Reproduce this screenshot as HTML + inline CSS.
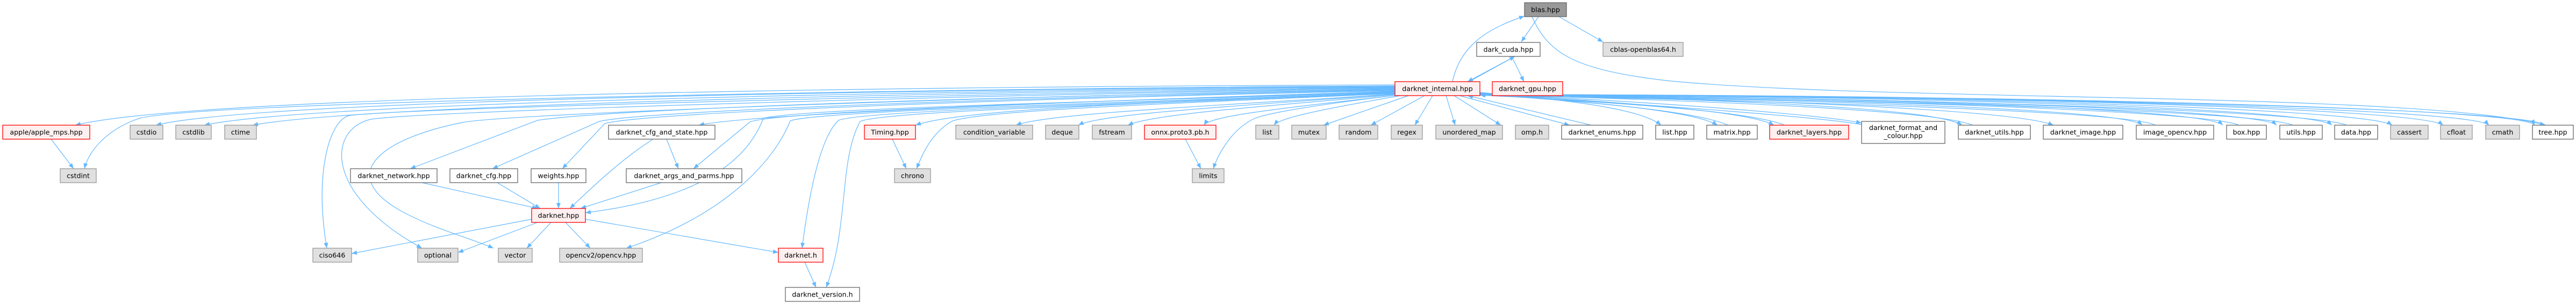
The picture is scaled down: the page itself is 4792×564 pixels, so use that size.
<!DOCTYPE html>
<html><head><meta charset="utf-8"><style>
html,body{margin:0;padding:0;background:#fff;}
svg{display:block;}
text{font-family:"DejaVu Sans","Liberation Sans",sans-serif;font-size:12.6px;fill:#000;text-anchor:middle;}
.g{fill:#e0e0e0;stroke:#999;stroke-width:1.3;}
.w{fill:#fff;stroke:#666;stroke-width:1.3;}
.r{fill:#fff0f0;stroke:#f00;stroke-width:1.3;}
.d{fill:#999;stroke:#666;stroke-width:1.3;}
.e{fill:none;stroke:#63b8ff;stroke-width:1.2;marker-end:url(#a);}
</style></head><body>
<svg width="4792" height="564" viewBox="0 0 4792 564" xmlns="http://www.w3.org/2000/svg">
<defs><marker id="a" markerWidth="10" markerHeight="8" refX="10" refY="4" orient="auto" markerUnits="userSpaceOnUse"><path d="M0,0L10,4L0,8z" fill="#63b8ff"/></marker></defs>

<g>
<!-- top -->
<path class="e" d="M2702,152 C2715,90 2760,55 2836,30"/>
<path class="e" d="M2862,31 L2830,78"/>
<path class="e" d="M2900,31 L2982,78"/>
<path class="e" d="M2850,31 C2880,100 2930,130 3100,150 C3500,190 4500,170 4735,233"/>
<path class="e" d="M2818,105 L2730,152"/>
<path class="e" d="M2733,152 L2818,105"/>
<path class="e" d="M2812,105 L2835,152"/>
<!-- left bundle -->
<path class="e" d="M2595,158 C2000,160 400,170 140,233"/>
<path class="e" d="M2595,160 C2000,162 400,185 260,220 C200,240 165,280 157,314"/>
<path class="e" d="M2595,161 C2000,164 500,180 290,233"/>
<path class="e" d="M2595,162 C2000,166 600,185 380,233"/>
<path class="e" d="M2595,163 C2000,168 700,190 470,233"/>
<path class="e" d="M2595,164 C2000,170 760,200 650,215 C610,225 585,330 608,462"/>
<path class="e" d="M2595,165 C2000,172 800,205 690,222 C610,240 600,360 785,462"/>
<path class="e" d="M2595,166 C2000,175 950,210 860,228 C700,260 620,330 760,400 C820,430 880,445 918,462"/>
<path class="e" d="M2595,167 C2000,176 1150,200 1000,224 L763,314"/>
<path class="e" d="M2595,168 C2000,178 1200,205 1115,226 L916,314"/>
<path class="e" d="M2595,169 C2000,180 1200,208 1125,230 L1046,314"/>
<path class="e" d="M2595,170 C2200,182 1400,210 1300,233"/>
<path class="e" d="M2595,170 C2200,184 1450,205 1395,227 L1290,314"/>
<path class="e" d="M2595,171 C2200,186 1500,200 1420,220 C1390,300 1300,370 1089,396"/>
<path class="e" d="M2595,172 C2200,188 1520,205 1470,225 C1440,300 1350,400 1165,462"/>
<path class="e" d="M2595,172 C2200,190 1600,205 1560,224 C1520,260 1500,400 1492,462"/>
<path class="e" d="M2595,173 C2200,192 1650,205 1600,226 C1560,300 1580,420 1537,535"/>
<path class="e" d="M2595,174 C2200,190 1800,200 1703,233"/>
<path class="e" d="M2595,174 C2200,192 1820,205 1770,226 C1730,250 1715,290 1705,314"/>
<path class="e" d="M2595,175 C2300,195 1950,210 1890,233"/>
<path class="e" d="M2595,175 C2350,195 2050,210 2006,233"/>
<path class="e" d="M2595,176 C2400,195 2150,210 2098,233"/>
<path class="e" d="M2600,177 C2400,200 2250,215 2240,233"/>
<path class="e" d="M2600,177 C2450,195 2360,210 2335,220 C2290,240 2265,290 2257,314"/>
<path class="e" d="M2605,178 C2450,205 2380,220 2370,233"/>
<path class="e" d="M2620,178 L2462,233"/>
<path class="e" d="M2650,178 L2550,233"/>
<path class="e" d="M2665,178 L2632,233"/>
<path class="e" d="M2690,178 L2707,233"/>
<path class="e" d="M2705,178 L2792,233"/>
<!-- right bundle -->
<path class="e" d="M2715,178 L2920,233"/>
<path class="e" d="M2960,233 L2730,178"/>
<path class="e" d="M2753,172 C2900,185 3050,200 3090,233"/>
<path class="e" d="M2753,173 C2950,190 3150,205 3195,233"/>
<path class="e" d="M3215,233 C3150,205 2950,190 2753,175"/>
<path class="e" d="M2753,174 C3000,190 3250,205 3300,233"/>
<path class="e" d="M3320,233 C3250,205 3000,192 2753,176"/>
<path class="e" d="M2753,175 C3100,190 3400,215 3463,229"/>
<path class="e" d="M3463,232 C3400,220 3100,195 2753,177"/>
<path class="e" d="M2753,175 C3200,185 3600,200 3650,233"/>
<path class="e" d="M3670,233 C3600,205 3200,188 2753,176"/>
<path class="e" d="M2753,176 C3300,185 3750,205 3820,233"/>
<path class="e" d="M2753,176 C3300,185 3950,200 3985,233"/>
<path class="e" d="M4010,233 C3950,205 3300,188 2753,177"/>
<path class="e" d="M2753,176 C3400,180 4100,200 4135,233"/>
<path class="e" d="M4165,233 C4100,205 3400,183 2753,177"/>
<path class="e" d="M2753,176 C3400,180 4200,200 4235,233"/>
<path class="e" d="M4265,233 C4200,205 3400,183 2753,177"/>
<path class="e" d="M2753,176 C3500,178 4300,200 4338,233"/>
<path class="e" d="M4365,233 C4300,205 3500,181 2753,177"/>
<path class="e" d="M2753,176 C3500,176 4400,200 4450,233"/>
<path class="e" d="M2753,176 C3600,176 4500,200 4545,233"/>
<path class="e" d="M2753,176 C3600,176 4600,200 4630,233"/>
<path class="e" d="M2753,176 C3700,176 4700,200 4715,233"/>
<path class="e" d="M4735,233 C4700,200 3700,178 2753,177"/>
<!-- lower -->
<path class="e" d="M95,259 L137,314"/>
<path class="e" d="M1240,259 L1262,314"/>
<path class="e" d="M1215,259 C1150,300 1090,360 1060,388"/>
<path class="e" d="M1230,340 L1080,388"/>
<path class="e" d="M785,340 L1000,388"/>
<path class="e" d="M925,340 L1005,388"/>
<path class="e" d="M1039,340 L1039,388"/>
<path class="e" d="M989,408 L654,472"/>
<path class="e" d="M1000,414 L852,470"/>
<path class="e" d="M1025,414 L980,462"/>
<path class="e" d="M1052,414 L1098,462"/>
<path class="e" d="M1089,408 L1448,470"/>
<path class="e" d="M1660,259 L1686,314"/>
<path class="e" d="M2205,259 L2234,314"/>
<path class="e" d="M1497,488 L1518,535"/>
</g>

<g>
<rect class="d" x="2836" y="5" width="78" height="26"/><text x="2875" y="22.5">blas.hpp</text>
<rect class="w" x="2747" y="79" width="118" height="26"/><text x="2806" y="96.5">dark_cuda.hpp</text>
<rect class="g" x="2982" y="79" width="149" height="26"/><text x="3056.5" y="96.5">cblas-openblas64.h</text>
<rect class="r" x="2595" y="152" width="158" height="26"/><text x="2674" y="169.5">darknet_internal.hpp</text>
<rect class="r" x="2776" y="152" width="131" height="26"/><text x="2841.5" y="169.5">darknet_gpu.hpp</text>

<rect class="r" x="5" y="233" width="162" height="26"/><text x="86" y="250.5">apple/apple_mps.hpp</text>
<rect class="g" x="242" y="233" width="61" height="26"/><text x="272.5" y="250.5">cstdio</text>
<rect class="g" x="327" y="233" width="66" height="26"/><text x="360" y="250.5">cstdlib</text>
<rect class="g" x="418" y="233" width="59" height="26"/><text x="447.5" y="250.5">ctime</text>
<rect class="w" x="1132" y="233" width="198" height="26"/><text x="1231" y="250.5">darknet_cfg_and_state.hpp</text>
<rect class="r" x="1608" y="233" width="95" height="26"/><text x="1655.5" y="250.5">Timing.hpp</text>
<rect class="g" x="1778" y="233" width="143" height="26"/><text x="1849.5" y="250.5">condition_variable</text>
<rect class="g" x="1945" y="233" width="62" height="26"/><text x="1976" y="250.5">deque</text>
<rect class="g" x="2032" y="233" width="73" height="26"/><text x="2068.5" y="250.5">fstream</text>
<rect class="r" x="2129" y="233" width="133" height="26"/><text x="2195.5" y="250.5">onnx.proto3.pb.h</text>
<rect class="g" x="2336" y="233" width="43" height="26"/><text x="2357.5" y="250.5">list</text>
<rect class="g" x="2403" y="233" width="64" height="26"/><text x="2435" y="250.5">mutex</text>
<rect class="g" x="2491" y="233" width="72" height="26"/><text x="2527" y="250.5">random</text>
<rect class="g" x="2588" y="233" width="58" height="26"/><text x="2617" y="250.5">regex</text>
<rect class="g" x="2671" y="233" width="124" height="26"/><text x="2733" y="250.5">unordered_map</text>
<rect class="g" x="2819" y="233" width="62" height="26"/><text x="2850" y="250.5">omp.h</text>
<rect class="w" x="2905" y="233" width="151" height="26"/><text x="2980.5" y="250.5">darknet_enums.hpp</text>
<rect class="w" x="3080" y="233" width="71" height="26"/><text x="3115.5" y="250.5">list.hpp</text>
<rect class="w" x="3175" y="233" width="94" height="26"/><text x="3222" y="250.5">matrix.hpp</text>
<rect class="r" x="3292" y="233" width="147" height="26"/><text x="3365.5" y="250.5">darknet_layers.hpp</text>
<rect class="w" x="3463" y="226" width="155" height="41"/><text x="3540.5" y="242">darknet_format_and</text><text x="3540.5" y="257">_colour.hpp</text>
<rect class="w" x="3643" y="233" width="134" height="26"/><text x="3710" y="250.5">darknet_utils.hpp</text>
<rect class="w" x="3801" y="233" width="148" height="26"/><text x="3875" y="250.5">darknet_image.hpp</text>
<rect class="w" x="3974" y="233" width="144" height="26"/><text x="4046" y="250.5">image_opencv.hpp</text>
<rect class="w" x="4142" y="233" width="74" height="26"/><text x="4179" y="250.5">box.hpp</text>
<rect class="w" x="4241" y="233" width="79" height="26"/><text x="4280.5" y="250.5">utils.hpp</text>
<rect class="w" x="4343" y="233" width="80" height="26"/><text x="4383" y="250.5">data.hpp</text>
<rect class="g" x="4447" y="233" width="70" height="26"/><text x="4482" y="250.5">cassert</text>
<rect class="g" x="4540" y="233" width="59" height="26"/><text x="4569.5" y="250.5">cfloat</text>
<rect class="g" x="4624" y="233" width="63" height="26"/><text x="4655.5" y="250.5">cmath</text>
<rect class="w" x="4711" y="233" width="76" height="26"/><text x="4749" y="250.5">tree.hpp</text>

<rect class="g" x="112" y="314" width="67" height="26"/><text x="145.5" y="331.5">cstdint</text>
<rect class="w" x="652" y="314" width="161" height="26"/><text x="732.5" y="331.5">darknet_network.hpp</text>
<rect class="w" x="837" y="314" width="126" height="26"/><text x="900" y="331.5">darknet_cfg.hpp</text>
<rect class="w" x="988" y="314" width="102" height="26"/><text x="1039" y="331.5">weights.hpp</text>
<rect class="w" x="1165" y="314" width="215" height="26"/><text x="1272.5" y="331.5">darknet_args_and_parms.hpp</text>
<rect class="g" x="1664" y="314" width="67" height="26"/><text x="1697.5" y="331.5">chrono</text>
<rect class="g" x="2218" y="314" width="59" height="26"/><text x="2247.5" y="331.5">limits</text>

<rect class="r" x="989" y="388" width="100" height="26"/><text x="1039" y="405.5">darknet.hpp</text>

<rect class="g" x="582" y="462" width="72" height="26"/><text x="618" y="479.5">ciso646</text>
<rect class="g" x="777" y="462" width="75" height="26"/><text x="814.5" y="479.5">optional</text>
<rect class="g" x="927" y="462" width="63" height="26"/><text x="958.5" y="479.5">vector</text>
<rect class="g" x="1041" y="462" width="154" height="26"/><text x="1118" y="479.5">opencv2/opencv.hpp</text>
<rect class="r" x="1448" y="462" width="83" height="26"/><text x="1489.5" y="479.5">darknet.h</text>
<rect class="w" x="1461" y="535" width="138" height="26"/><text x="1530" y="552.5">darknet_version.h</text>
</g>
</svg>
</body></html>
